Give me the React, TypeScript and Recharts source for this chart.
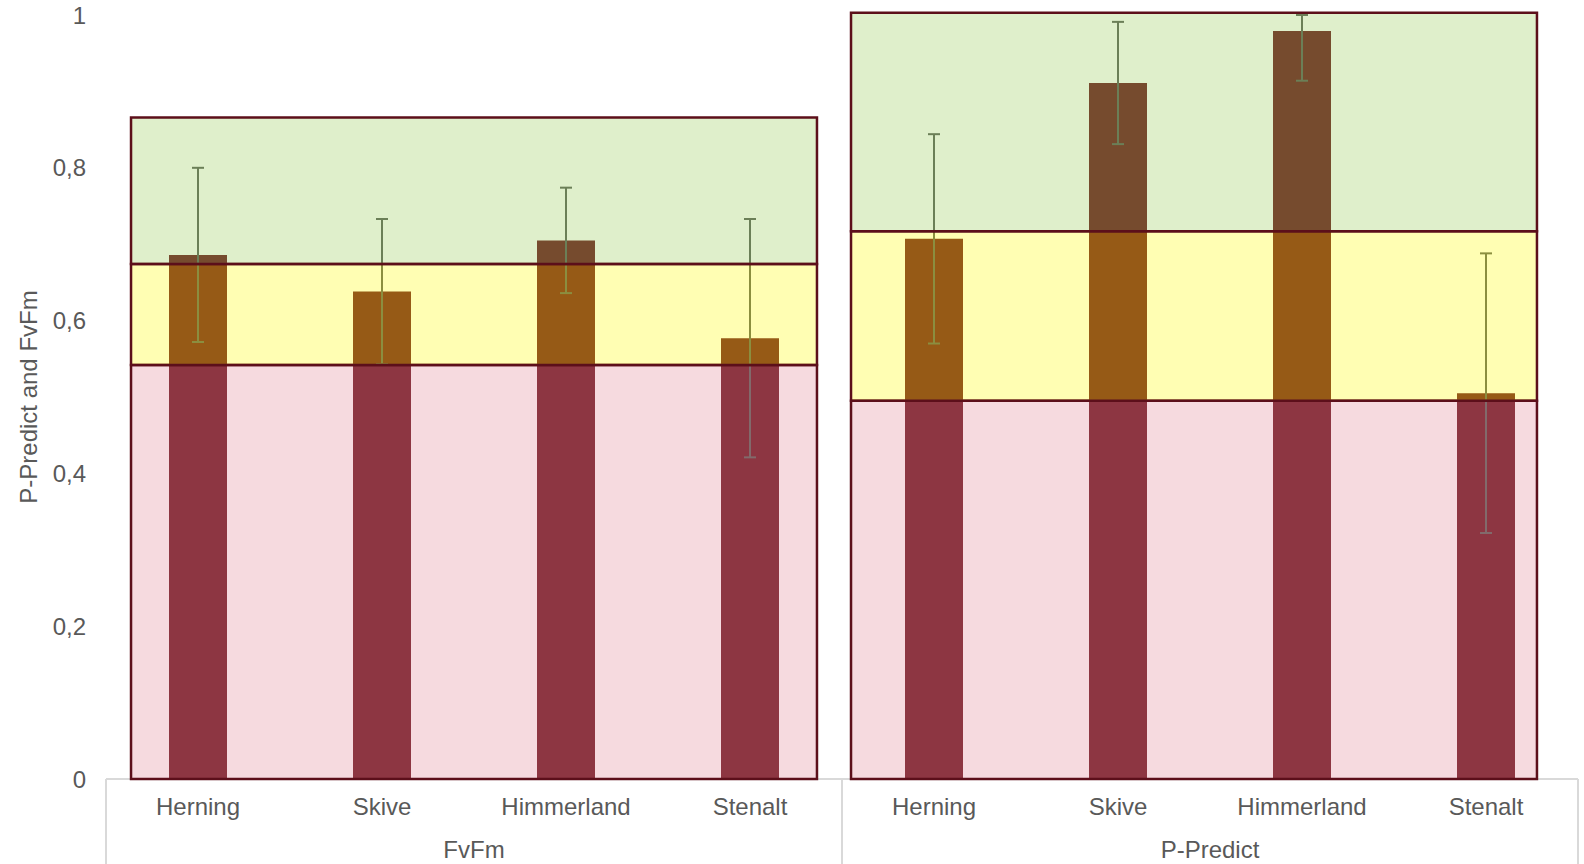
import React from "react";
import {
  ComposedChart,
  Bar,
  ErrorBar,
  XAxis,
  YAxis,
  ReferenceArea,
  ReferenceLine,
} from "recharts";

const categories = ["Herning", "Skive", "Himmerland", "Stenalt"];
const groups = ["FvFm", "P-Predict"];
const fvfmValues = [0.686, 0.638, 0.705, 0.577];
const fvfmErrors = [0.114, 0.095, 0.069, 0.156];
const ppredictValues = [0.707, 0.911, 0.979, 0.505];
const ppredictErrors = [0.137, 0.08, 0.065, 0.183];
// thresholds: [0, red upper, yellow upper, green upper]
const fvfmBands = [0, 0.542, 0.674, 0.866];
const ppredictBands = [0, 0.495, 0.717, 1.003];
const yTicks = [0, 0.2, 0.4, 0.6, 0.8, 1];
const yMax = 1;

const rows = [
  ...fvfmValues.map((v, i) => ({ x: i + 0.5, value: v, err: fvfmErrors[i] })),
  ...ppredictValues.map((v, i) => ({ x: i + 4.5, value: v, err: ppredictErrors[i] })),
];
const catTicks = rows.map((r) => r.x);
const groupTicks = [2, 6];
const separators = [0, 4, 8];

const FONT = "'Liberation Sans', Arial, sans-serif";
const TEXT = "#595959";
const BORDER = "#5C0F1A";
const BAR = "rgb(94,4,14)";
const ERR = "rgb(78,83,78)";
const OVERLAYS = ["rgb(229,149,164)", "rgb(255,252,38)", "rgb(164,209,106)"];
const OVER_OP = 0.35;

const bandGroups = [
  { bands: fvfmBands, x1: 0.136, x2: 3.864 },
  { bands: ppredictBands, x1: 4.049, x2: 7.777 },
];

// error bars are cut at the top of the value axis, as in the original
const errorRange = (entry: any) => [entry.err, Math.min(entry.err, yMax - entry.value)];

export default function App() {
  return (
    <div style={{ position: "absolute", left: 0, top: 0, width: 1584, height: 864, background: "#fff" }}>
      <ComposedChart
        width={1584}
        height={864}
        data={rows}
        margin={{ top: 15, right: 6, left: 0, bottom: 0 }}
        style={{ fontFamily: FONT }}
      >
        <XAxis
          xAxisId="cat"
          dataKey="x"
          type="number"
          domain={[0, 8]}
          ticks={catTicks}
          interval={0}
          tickFormatter={(v: number) => categories[Math.floor(v) % 4]}
          tickLine={false}
          axisLine={{ stroke: "#d9d9d9", strokeWidth: 2 }}
          tick={{ fill: TEXT, fontSize: 24, fontFamily: FONT }}
          tickMargin={13}
          height={42}
          allowDataOverflow
        />
        <XAxis
          xAxisId="grp"
          dataKey="x"
          type="number"
          domain={[0, 8]}
          ticks={groupTicks}
          interval={0}
          tickFormatter={(v: number) => groups[Math.floor(v / 4)]}
          tickLine={false}
          axisLine={false}
          tick={{ fill: TEXT, fontSize: 24, fontFamily: FONT }}
          tickMargin={14}
          height={43}
          allowDataOverflow
        />
        <YAxis
          domain={[0, yMax]}
          ticks={yTicks}
          allowDataOverflow
          tickFormatter={(v: number) => String(v).replace(".", ",")}
          axisLine={false}
          tickLine={false}
          tick={{ fill: TEXT, fontSize: 24, fontFamily: FONT }}
          tickMargin={14}
          width={106}
          label={{
            content: (props: any) => {
              const vb = props.viewBox || {};
              const cy = (vb.y ?? 15) + (vb.height ?? 764) / 2;
              return (
                <text
                  x={28}
                  y={cy}
                  transform={`rotate(-90, 28, ${cy})`}
                  textAnchor="middle"
                  dominantBaseline="central"
                  fill={TEXT}
                  fontSize={24}
                  fontFamily={FONT}
                >
                  P-Predict and FvFm
                </text>
              );
            },
          }}
        />
        <Bar xAxisId="cat" dataKey="value" fill={BAR} barSize={58} isAnimationActive={false}>
          <ErrorBar dataKey={errorRange} direction="y" width={6} stroke={ERR} strokeWidth={2} />
        </Bar>
        {bandGroups.map((g, gi) =>
          [0, 1, 2].map((k) => (
            <ReferenceArea
              key={`b-${gi}-${k}`}
              xAxisId="cat"
              x1={g.x1}
              x2={g.x2}
              y1={g.bands[k]}
              y2={g.bands[k + 1]}
              fill={OVERLAYS[k]}
              fillOpacity={OVER_OP}
              stroke={BORDER}
              strokeWidth={2.5}
              ifOverflow="visible"
              zIndex={1500}
            />
          ))
        )}
        {separators.map((s) => (
          <ReferenceLine
            key={`s-${s}`}
            xAxisId="cat"
            segment={[
              { x: s, y: 0 },
              { x: s, y: -0.12 },
            ]}
            stroke="#d9d9d9"
            strokeWidth={2}
            ifOverflow="visible"
          />
        ))}
      </ComposedChart>
    </div>
  );
}
